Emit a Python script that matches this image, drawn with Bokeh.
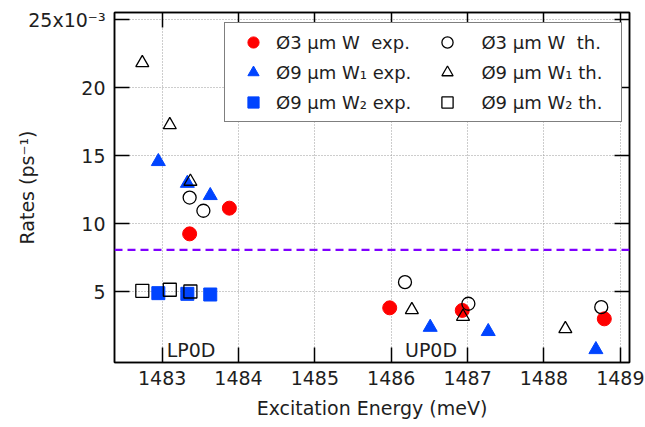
from bokeh.plotting import figure
from bokeh.models import Range1d, LinearAxis, FixedTicker, Legend, LegendItem, Span, Label
from bokeh.embed import file_html
from bokeh.resources import INLINE

# ---- data (rates in units of 1e-3 ps^-1, energies in meV) ----
w3_exp_x = [1483.36, 1483.88, 1485.98, 1486.93, 1488.79]
w3_exp_y = [9.26, 11.15, 3.82, 3.63, 3.01]
w3_th_x = [1483.36, 1483.54, 1486.18, 1487.01, 1488.75]
w3_th_y = [11.93, 10.96, 5.71, 4.12, 3.87]
w91_exp_x = [1482.95, 1483.33, 1483.63, 1486.51, 1487.27, 1488.68]
w91_exp_y = [14.58, 12.98, 12.08, 2.39, 2.08, 0.75]
w91_th_x = [1482.74, 1483.10, 1483.37, 1486.27, 1486.94, 1488.28]
w91_th_y = [21.83, 17.27, 13.11, 3.67, 3.18, 2.27]
w92_exp_x = [1482.95, 1483.33, 1483.63]
w92_exp_y = [4.90, 4.85, 4.80]
w92_th_x = [1482.74, 1483.10, 1483.37]
w92_th_y = [5.07, 5.15, 5.02]
threshold = 8.09

x_ticks = [1483, 1484, 1485, 1486, 1487, 1488, 1489]
y_ticks = [5, 10, 15, 20, 25]
y_tick_labels = ["5", "10", "15", "20", "25x10\u207b\u00b3"]
region_labels = ["LP0D", "UP0D"]

FONT = "DejaVu Sans"
TXT = "#1e1e1e"
RED = "#FF0000"
BLUE = "#0044FF"
PURPLE = "#7F00FF"

p = figure(width=645, height=427, output_backend="svg", toolbar_location=None,
           x_range=Range1d(1482.376, 1489.12), y_range=Range1d(-0.2, 25.54),
           min_border_left=114, min_border_right=16, min_border_top=12, min_border_bottom=65,
           x_axis_label="Excitation Energy (meV)", y_axis_label="Rates (ps\u207b\u00b9)")
p.outline_line_color = "black"
p.outline_line_width = 1.5
p.background_fill_color = "white"
p.border_fill_color = "white"


def style_axis(ax, ticks, show_labels=True):
    ax.ticker = FixedTicker(ticks=ticks)
    ax.major_tick_in = 15
    ax.major_tick_out = 0
    ax.minor_tick_in = 0
    ax.minor_tick_out = 0
    ax.axis_line_width = 1.5
    ax.axis_line_color = "black"
    ax.major_tick_line_width = 1.5
    ax.major_tick_line_color = "black"
    ax.major_label_text_font = FONT
    ax.axis_label_text_font = FONT
    ax.axis_label_text_font_style = "normal"
    ax.axis_label_text_font_size = "19px"
    ax.axis_label_text_color = TXT
    if show_labels:
        ax.major_label_text_color = TXT
        ax.major_label_text_font_size = "19px"
        ax.major_label_standoff = 9
    else:
        ax.major_label_text_color = None
        ax.major_label_text_alpha = 0
        ax.major_label_text_font_size = "1px"
        ax.major_label_standoff = 0


style_axis(p.xaxis[0], x_ticks)
style_axis(p.yaxis[0], y_ticks)
p.xaxis[0].major_label_standoff = 8
p.xaxis[0].axis_label_standoff = 9
p.yaxis[0].axis_label_standoff = -13
p.yaxis[0].major_label_overrides = {t: s for t, s in zip(y_ticks, y_tick_labels)}

top_ax = LinearAxis()
style_axis(top_ax, x_ticks, show_labels=False)
p.add_layout(top_ax, "above")
right_ax = LinearAxis()
style_axis(right_ax, y_ticks, show_labels=False)
p.add_layout(right_ax, "right")

for g in (p.xgrid[0], p.ygrid[0]):
    g.grid_line_color = "#9a9a9a"
    g.grid_line_dash = "1 2"
    g.grid_line_width = 1

p.add_layout(Span(location=threshold, dimension="width", line_color=PURPLE,
                  line_width=2.2, line_dash="8 5"))

SZ = 14
r_w3e = p.scatter(w3_exp_x, w3_exp_y, marker="circle", size=SZ, fill_color=RED, line_color=RED)
r_w91e = p.scatter(w91_exp_x, w91_exp_y, marker="triangle", size=SZ, fill_color=BLUE, line_color=BLUE)
r_w92e = p.scatter(w92_exp_x, w92_exp_y, marker="square", size=SZ - 1, fill_color=BLUE, line_color=BLUE)
r_w3t = p.scatter(w3_th_x, w3_th_y, marker="circle", size=SZ - 1, fill_color=None, line_color="black", line_width=1.3)
r_w91t = p.scatter(w91_th_x, w91_th_y, marker="triangle", size=SZ - 1, fill_color=None, line_color="black", line_width=1.3)
r_w92t = p.scatter(w92_th_x, w92_th_y, marker="square", size=SZ - 1, fill_color=None, line_color="black", line_width=1.3)

for txt, xx in zip(region_labels, (1483.06, 1486.18)):
    p.add_layout(Label(x=xx, y=0.75, text=txt, text_font=FONT, text_font_size="19px",
                       text_color=TXT, text_baseline="middle"))

LEAD = "\u00a0\u00a0"
items = [
    LegendItem(label="\u00d83 \u03bcm W\u00a0 exp.", renderers=[r_w3e]),
    LegendItem(label="\u00d89 \u03bcm W\u2081 exp.", renderers=[r_w91e]),
    LegendItem(label="\u00d89 \u03bcm W\u2082 exp.", renderers=[r_w92e]),
    LegendItem(label=LEAD + "\u00d83 \u03bcm W\u00a0 th.", renderers=[r_w3t]),
    LegendItem(label=LEAD + "\u00d89 \u03bcm W\u2081 th.", renderers=[r_w91t]),
    LegendItem(label=LEAD + "\u00d89 \u03bcm W\u2082 th.", renderers=[r_w92t]),
]
legend = Legend(items=items, ncols=2, location=(110, 240))
legend.label_text_font = FONT
legend.label_text_font_size = "18px"
legend.label_text_color = TXT
legend.border_line_color = "black"
legend.border_line_width = 1.5
legend.background_fill_color = "white"
legend.background_fill_alpha = 1
legend.padding = 5
legend.margin = 0
legend.spacing = 2
legend.glyph_width = 46
legend.glyph_height = 28
legend.label_height = 20
legend.label_width = 146
legend.label_standoff = 0
p.add_layout(legend)

open("out.html", "w").write(file_html(p, INLINE))
